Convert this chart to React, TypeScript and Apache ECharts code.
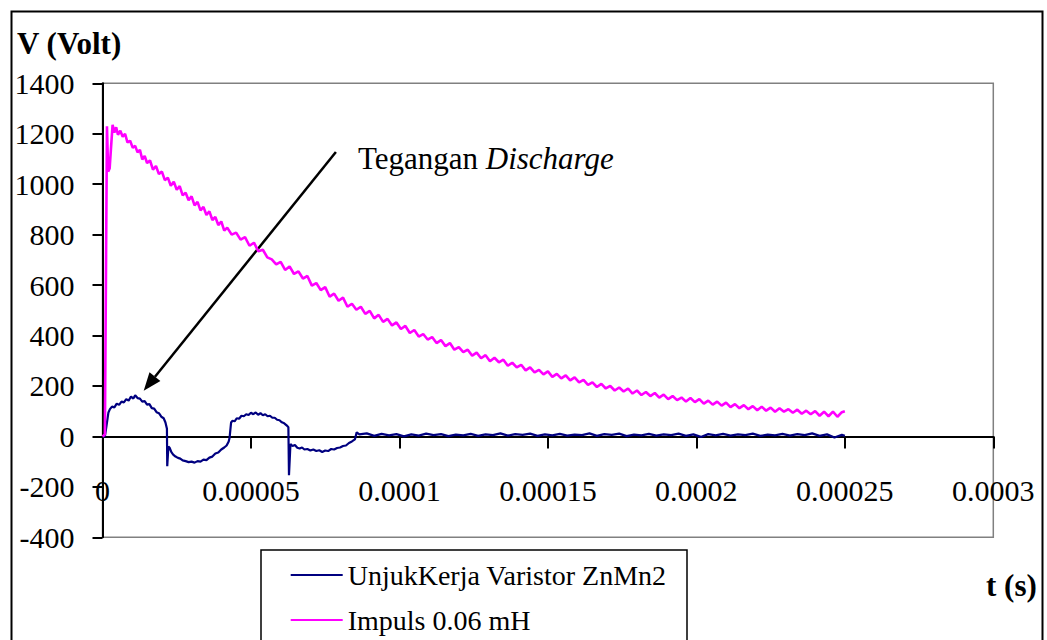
import React, { useEffect, useRef } from 'react';
import * as echarts from 'echarts';

// x axis values are in microseconds; tick labels show seconds
const xTickLabels = ['0', '0.00005', '0.0001', '0.00015', '0.0002', '0.00025', '0.0003'];
const yMin = -400;
const yMax = 1400;
const yStep = 200;

const varistorName = 'UnjukKerja Varistor ZnMn2';
const impulsName = 'Impuls 0.06 mH';

// [time (µs), voltage (V)]
const varistorData: [number, number][] = [
  [0, 0], [0.8, 0], [1.2, 30], [1.6, 63], [2.0, 95], [2.5, 108], [3.2, 118], [4.0, 115], [4.8, 130], [5.6, 125],
  [6.4, 138], [7.2, 135], [8.0, 148], [8.8, 142], [9.6, 158], [10.4, 150], [11.0, 163], [11.8, 152], [12.6, 150],
  [13.4, 138], [14.2, 140], [15.0, 126], [15.8, 128], [16.6, 112], [17.4, 110], [18.2, 96], [19.0, 92], [19.8, 78],
  [20.6, 72], [21.2, 55], [21.7, 30], [21.8, -118], [22.2, -40], [22.6, -45], [23.2, -62], [23.8, -72], [24.6, -80],
  [25.4, -85], [26.2, -88], [27.0, -95], [28.0, -98], [29.0, -102], [30.0, -100], [31.0, -104], [32.0, -98],
  [33.0, -100], [34.0, -92], [35.0, -94], [36.0, -84], [37.0, -80], [38.0, -68], [39.0, -64], [40.0, -52],
  [41.0, -44], [41.8, -36], [42.5, -20], [42.8, -5], [43.3, 55], [43.8, 62], [44.5, 60], [45.2, 72], [46.0, 70],
  [46.8, 82], [47.6, 80], [48.4, 88], [49.2, 85], [50.0, 94], [50.8, 88], [51.6, 95], [52.4, 86], [53.2, 92],
  [54.0, 84], [54.8, 88], [55.6, 80], [56.4, 82], [57.2, 74], [58.0, 74], [58.8, 66], [59.6, 64], [60.4, 56],
  [61.2, 52], [62.0, 44], [62.6, 36], [62.8, -154], [63.3, -30], [64.0, -38], [64.8, -34], [65.6, -45], [66.4, -48],
  [67.2, -44], [68.0, -52], [69.0, -50], [70.0, -56], [71.0, -52], [72.0, -58], [73.0, -55], [74.0, -62], [75.0, -56],
  [76.0, -58], [77.0, -50], [78.0, -52], [79.0, -46], [80.0, -44], [81.0, -38], [82.0, -36], [83.0, -26], [84.0, -20],
  [85.0, -12], [85.6, 16], [86.5, 8], [89, 12], [91.5, 2], [94, 10], [96.5, 4], [99, 9], [101.5, 0], [104, 8],
  [106.5, 3], [109, 11], [111.5, 5], [114, 9], [116.5, 1], [119, 7], [121.5, 4], [124, 10], [126.5, 2], [129, 8],
  [131.5, 5], [134, 12], [136.5, 3], [139, 9], [141.5, 6], [144, 11], [146.5, 2], [149, 8], [151.5, 4], [154, 10],
  [156.5, 3], [159, 7], [161.5, 5], [164, 12], [166.5, 2], [169, 9], [171.5, 6], [174, 11], [176.5, 1], [179, 7],
  [181.5, 4], [184, 10], [186.5, 3], [189, 8], [191.5, 5], [194, 11], [196.5, 2], [199, 8], [201.5, -2], [204, 9],
  [206.5, 4], [209, 10], [211.5, 3], [214, 8], [216.5, 5], [219, 11], [221.5, 2], [224, 7], [226.5, 4], [229, 10],
  [231.5, 3], [234, 9], [236.5, 5], [239, 12], [241.5, 2], [244, 8], [246.5, -4], [249, 6], [250, 2],
];

const impulsData: [number, number][] = [
  [0, 0], [0.8, 8], [1.5, 1230], [1.9, 1050], [2.4, 1062], [2.9, 1150], [3.4, 1235], [4.0, 1205], [4.6, 1226],
  [5.2, 1196], [6.0, 1212], [6.8, 1188], [7.6, 1200], [8.4, 1166], [9.3, 1172], [10.2, 1144], [11.0, 1152],
  [11.8, 1126], [12.6, 1136], [13.4, 1098], [14.2, 1112], [15.0, 1084], [16.0, 1094], [17.0, 1058], [18.0, 1072],
  [19.0, 1040], [20.0, 1050], [21.0, 1016], [22.0, 1026], [23.0, 994], [24.0, 1010], [25.0, 978], [26.0, 992],
  [27.0, 956], [28.0, 966], [29.0, 936], [30.0, 952], [31.0, 916], [32.0, 930], [33.0, 896], [34.0, 910],
  [35.0, 878], [36.0, 892], [37.0, 858], [38.0, 870], [39.0, 838], [40.0, 852], [41.0, 816], [42.0, 828],
  [43.5, 800], [45.0, 808], [46.5, 780], [48.0, 790], [49.5, 756], [51.0, 768], [52.5, 734], [54.0, 740],
  [55.5, 710], [57.0, 702], [58.5, 682], [60.0, 692], [61.5, 660], [63.0, 674], [64.5, 644], [66.0, 654],
  [67.5, 626], [69.0, 636], [70.5, 598], [72.0, 608], [73.5, 580], [75.0, 592], [76.5, 554], [78.0, 566],
  [79.5, 538], [81.0, 550], [82.5, 514], [84.0, 526], [85.5, 502], [87.0, 514], [88.5, 486], [90.0, 498],
  [91.5, 468], [93.0, 482], [94.5, 454], [96.0, 466], [97.5, 440], [99.0, 452], [100.5, 426], [102.0, 438],
  [103.5, 410], [105.0, 422], [106.5, 396], [108.0, 406], [109.5, 384], [111.0, 394], [112.5, 370], [114.0, 382],
  [115.5, 358], [117.0, 370], [118.5, 344], [120.0, 354], [121.5, 334], [123.0, 344], [124.5, 320], [126.0, 332],
  [127.5, 310], [129.0, 322], [130.5, 298], [132.0, 312], [133.5, 294], [135.0, 304], [136.5, 280], [138.0, 292],
  [139.5, 274], [141.0, 284], [142.5, 262], [144.0, 274], [145.5, 254], [147.0, 264], [148.5, 246], [150.0, 258],
  [151.5, 236], [153.0, 248], [154.5, 230], [156.0, 242], [157.5, 222], [159.0, 234], [160.5, 214], [162.0, 224],
  [163.5, 204], [165.0, 214], [166.5, 196], [168.0, 208], [169.5, 190], [171.0, 200], [172.5, 182], [174.0, 194],
  [175.5, 178], [177.0, 190], [178.5, 170], [180.0, 182], [181.5, 164], [183.0, 176], [184.5, 160], [186.0, 172],
  [187.5, 154], [189.0, 166], [190.5, 148], [192.0, 160], [193.5, 144], [195.0, 154], [196.5, 138], [198.0, 152],
  [199.5, 136], [201.0, 148], [202.5, 130], [204.0, 142], [205.5, 126], [207.0, 138], [208.5, 122], [210.0, 134],
  [211.5, 116], [213.0, 128], [214.5, 112], [216.0, 124], [217.5, 108], [219.0, 120], [220.5, 104], [222.0, 118],
  [223.5, 102], [225.0, 114], [226.5, 98], [228.0, 112], [229.5, 98], [231.0, 108], [232.5, 94], [234.0, 106],
  [235.5, 90], [237.0, 102], [238.5, 88], [240.0, 100], [241.5, 82], [243.0, 98], [244.5, 80], [246.0, 98],
  [247.5, 78], [249.0, 96], [250.0, 100],
];

const FONT = 'Liberation Serif';

export default function App() {
  const ref = useRef<HTMLDivElement>(null);

  useEffect(() => {
    if (!ref.current) return;
    const chart = echarts.init(ref.current, null, { renderer: 'svg' });
    chart.setOption({
      animation: false,
      backgroundColor: '#ffffff',
      textStyle: { fontFamily: FONT },
      grid: {
        left: 102.5,
        top: 83.3,
        right: 53.7,
        bottom: 102.7,
        show: true,
        borderColor: '#808080',
        borderWidth: 1.5,
        backgroundColor: 'transparent',
      },
      xAxis: {
        type: 'value',
        min: 0,
        max: 300,
        interval: 50,
        axisLine: { onZero: true, lineStyle: { color: '#000', width: 2 } },
        axisTick: { show: true, length: 12, lineStyle: { color: '#000', width: 2 } },
        axisLabel: {
          margin: -62,
          fontSize: 30,
          fontFamily: FONT,
          color: '#000',
          formatter: (v: number) => xTickLabels[Math.round(v / 50)] ?? '',
        },
        splitLine: { show: false },
      },
      yAxis: {
        type: 'value',
        min: yMin,
        max: yMax,
        interval: yStep,
        axisLine: { show: true, onZero: false, lineStyle: { color: '#000', width: 2 } },
        axisTick: { show: true, length: 10, lineStyle: { color: '#000', width: 2 } },
        axisLabel: {
          margin: 28,
          fontSize: 30,
          fontFamily: FONT,
          color: '#000',
          formatter: (v: number) => String(v),
        },
        splitLine: { show: false },
      },
      legend: {
        orient: 'vertical',
        left: 290.7,
        top: 561,
        padding: 0,
        itemWidth: 52,
        itemHeight: 2,
        itemGap: 17,
        icon: 'rect',
        textStyle: { fontFamily: FONT, fontSize: 28, lineHeight: 28, color: '#000' },
        data: [varistorName, impulsName],
      },
      series: [
        {
          name: varistorName,
          type: 'line',
          data: varistorData,
          showSymbol: false,
          symbol: 'none',
          lineStyle: { color: '#000080', width: 2.2 },
          itemStyle: { color: '#000080' },
          z: 3,
        },
        {
          name: impulsName,
          type: 'line',
          data: impulsData,
          showSymbol: false,
          symbol: 'none',
          lineStyle: { color: '#FF00FF', width: 2.6 },
          itemStyle: { color: '#FF00FF' },
          z: 4,
        },
      ],
      graphic: [
        {
          type: 'rect',
          silent: true,
          shape: { x: 11.5, y: 11.5, width: 1031, height: 660 },
          style: { fill: 'none', stroke: '#000', lineWidth: 2 },
        },
        {
          type: 'rect',
          silent: true,
          shape: { x: 261, y: 550, width: 426, height: 120 },
          style: { fill: 'none', stroke: '#000', lineWidth: 1.5 },
        },
        {
          type: 'text',
          x: 17,
          y: 43,
          style: { text: 'V (Volt)', fontSize: 31, fontWeight: 'bold', fontFamily: FONT, fill: '#000', verticalAlign: 'middle' },
        },
        {
          type: 'text',
          x: 986,
          y: 585,
          style: { text: 't (s)', fontSize: 31, fontWeight: 'bold', fontFamily: FONT, fill: '#000', verticalAlign: 'middle' },
        },
        {
          type: 'text',
          x: 358,
          y: 158,
          style: {
            text: '{a|Tegangan }{b|Discharge}',
            verticalAlign: 'middle',
            fill: '#000',
            rich: {
              a: { fontSize: 31, fontFamily: FONT, fill: '#000' },
              b: { fontSize: 31, fontFamily: FONT, fontStyle: 'italic', fill: '#000' },
            },
          },
        },
        {
          type: 'line',
          silent: true,
          shape: { x1: 335.9, y1: 152, x2: 155, y2: 376.7 },
          style: { stroke: '#000', lineWidth: 2.5 },
        },
        {
          type: 'polygon',
          silent: true,
          shape: { points: [[143.7, 390.7], [160.4, 381.1], [149.5, 372.3]] },
          style: { fill: '#000' },
        },
      ],
    });
    return () => chart.dispose();
  }, []);

  return (
    <div
      ref={ref}
      style={{ position: 'fixed', left: 0, top: 0, width: 1047, height: 640, background: '#fff' }}
    />
  );
}
